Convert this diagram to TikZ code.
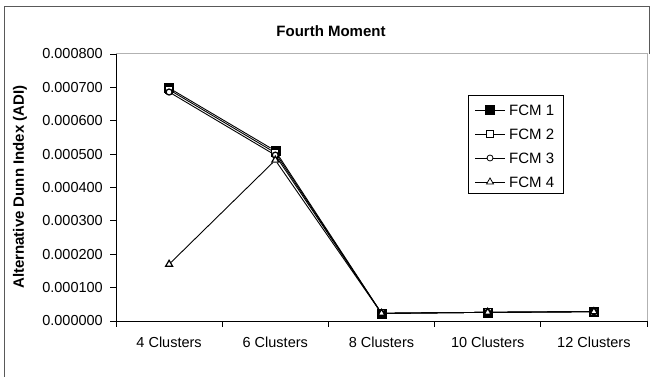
\documentclass[tikz,border=0pt]{standalone}
\usepackage{fontspec}
\setmainfont{Liberation Sans}
\usetikzlibrary{positioning,shapes.geometric}

\begin{document}
\begin{tikzpicture}[x=1pt,y=-1pt,
    lbl/.style={font=\fontsize{14.5}{16}\selectfont,inner sep=0pt},
    ttl/.style={font=\fontsize{15}{17}\selectfont\bfseries,inner sep=0pt},
    sqfill/.style={draw,fill=black,minimum size=9pt,inner sep=0pt},
    sqopen/.style={draw,line width=1.3pt,fill=white,minimum size=7pt,inner sep=0pt},
    circopen/.style={circle,draw,line width=1.3pt,fill=white,minimum size=6pt,inner sep=0pt},
    triopen/.style={regular polygon,regular polygon sides=3,draw,line width=1.2pt,fill=white,minimum size=8pt,inner sep=0pt},
    series/.style={draw,line width=0.9pt},
  ]
    \useasboundingbox (0,0) rectangle (658,377);
    % chart frame
    \draw[line width=1pt,gray!70!black] (4,377) -- (4,7) -- (649,7) -- (649,54);
    % plot area
    \draw[gray!60,line width=1pt] (116,54) -- (647,54) -- (647,321);
    \draw[line width=0.9pt] (116,54) -- (116,321) -- (647,321);
    \node[ttl] (title) at (331,31) {Fourth Moment};
    \node[ttl,rotate=90] (ytitle) at (20,187) {Alternative Dunn Index (ADI)};
    % y axis
    \foreach \t [count=\i from 0] in {0.000000,0.000100,0.000200,0.000300,0.000400,0.000500,0.000600,0.000700,0.000800} {
      \draw[line width=0.9pt] (110,{321-33.375*\i}) -- (116,{321-33.375*\i});
      \node[lbl,anchor=east] (yt\i) at (103,{321-33.375*\i}) {\t};
    }
    % x axis
    \foreach \i in {0,...,5}
      \draw[line width=0.9pt] ({116+106.2*\i},321) -- ({116+106.2*\i},327);
    \foreach \c [count=\i] in {4,6,8,10,12}
      \node[lbl] (xt\i) at ({116+106.2*(\i-0.5)},342) {\c{} Clusters};
    % data
    \foreach \v [count=\i] in {698,510,23,26,28}
      \node[sqfill] (fa\i) at ({116+106.2*(\i-0.5)},{321-0.33375*\v}) {};
    \foreach \v [count=\i] in {693,504,23,26,28}
      \node[sqopen] (fb\i) at ({116+106.2*(\i-0.5)},{321-0.33375*\v}) {};
    \foreach \v [count=\i] in {686,497,23,26,28}
      \node[circopen] (fc\i) at ({116+106.2*(\i-0.5)},{321-0.33375*\v}) {};
    \foreach \v [count=\i] in {170,482,23,26,28}
      \node[triopen] (fd\i) at ({116+106.2*(\i-0.5)},{321-0.33375*\v}) {};
    \draw[series] (fa1) -- (fa2) -- (fa3) -- (fa4) -- (fa5);
    \draw[series] (fb1) -- (fb2) -- (fb3) -- (fb4) -- (fb5);
    \draw[series] (fc1) -- (fc2) -- (fc3) -- (fc4) -- (fc5);
    \draw[series] (fd1) -- (fd2) -- (fd3) -- (fd4) -- (fd5);
    % legend
    \node[draw,line width=0.9pt,minimum width=95pt,minimum height=98pt] (legend) at (515.5,144) {};
    \foreach \s/\n/\y in {sqfill/1/110,sqopen/2/134,circopen/3/158,triopen/4/182} {
      \coordinate (la\n) at (475,\y);
      \coordinate (lb\n) at (505,\y);
      \draw[series] (la\n) -- (lb\n);
      \node[\s,line width=0.8pt] (lm\n) at (490,\y) {};
      \node[lbl,font=\fontsize{15}{17}\selectfont,anchor=west] (ln\n) at (509,\y) {FCM \n};
    }
  \end{tikzpicture}
\end{document}
